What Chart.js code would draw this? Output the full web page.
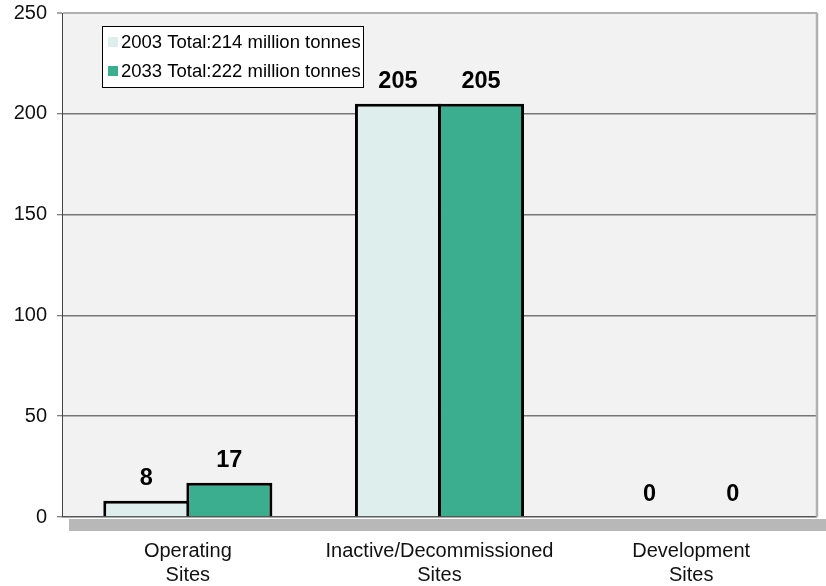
<!DOCTYPE html>
<html><head><meta charset="utf-8">
<script src="https://cdn.jsdelivr.net/npm/chart.js@4/dist/chart.umd.min.js"></script>
<style>html,body{margin:0;padding:0;background:#fff}#wrap{width:826px;height:586px}</style>
</head><body><div id="wrap"><canvas id="c" width="826" height="586"></canvas></div>
<script>
const categories = [["Operating","Sites"],["Inactive/Decommissioned","Sites"],["Development","Sites"]];
const seriesNames = ["2003 Total:214 million tonnes","2033 Total:222 million tonnes"];
const values2003 = [8, 205, 0];
const values2033 = [17, 205, 0];
const yTicks = [0, 50, 100, 150, 200, 250];
const colors = ["#ddeeed", "#3aae8f"];
const FONT = "'Liberation Sans', Arial, sans-serif";

const decor = {
  id: 'decor',
  beforeDraw(chart) {
    const {ctx, chartArea: a} = chart;
    ctx.save();
    ctx.fillStyle = '#f2f2f2';
    ctx.fillRect(a.left, a.top, a.right - a.left, a.bottom - a.top);
    ctx.fillStyle = '#b8b8b8';
    ctx.fillRect(a.left + 7, a.bottom + 2, chart.width - a.left - 7, 12);
    ctx.restore();
  },
  afterDraw(chart) {
    const {ctx, chartArea: a} = chart;
    ctx.save();
    ctx.strokeStyle = '#b0b0b0';
    ctx.lineWidth = 2.5;
    ctx.beginPath();
    ctx.moveTo(a.right, a.top);
    ctx.lineTo(a.right, a.bottom);
    ctx.stroke();
    ctx.fillStyle = '#000';
    ctx.font = "bold 23.5px " + FONT;
    ctx.textAlign = 'center';
    ctx.textBaseline = 'middle';
    chart.data.datasets.forEach((ds, di) => {
      chart.getDatasetMeta(di).data.forEach((bar, i) => {
        ctx.fillText(String(ds.data[i]), bar.x, bar.y - 22);
      });
    });
    const lx = a.left + 40, ly = a.top + 13, lw = 261, lh = 61;
    ctx.fillStyle = '#fff';
    ctx.fillRect(lx, ly, lw, lh);
    ctx.strokeStyle = '#000';
    ctx.lineWidth = 1;
    ctx.strokeRect(lx + 0.5, ly + 0.5, lw, lh);
    ctx.font = "18.5px " + FONT;
    ctx.textAlign = 'left';
    chart.data.datasets.forEach((ds, di) => {
      const cy = ly + 16 + di * 29;
      ctx.fillStyle = ds.backgroundColor;
      ctx.fillRect(lx + 6, cy - 5, 10, 10);
      ctx.fillStyle = '#000';
      ctx.fillText(ds.label, lx + 19, cy + 1);
    });
    ctx.restore();
  }
};

new Chart(document.getElementById('c'), {
  type: 'bar',
  data: {
    labels: categories,
    datasets: [
      {label: seriesNames[0], data: values2003, backgroundColor: colors[0], borderColor: '#000', borderWidth: 3, borderSkipped: 'bottom', categoryPercentage: 0.66, barPercentage: 1.036},
      {label: seriesNames[1], data: values2033, backgroundColor: colors[1], borderColor: '#000', borderWidth: 3, borderSkipped: 'bottom', categoryPercentage: 0.66, barPercentage: 1.036}
    ]
  },
  options: {
    responsive: false,
    animation: false,
    devicePixelRatio: 1,
    layout: {padding: {top: 13, right: 9, left: 0, bottom: 0}},
    plugins: {legend: {display: false}, tooltip: {enabled: false}},
    scales: {
      x: {
        grid: {display: false, drawTicks: false},
        border: {display: false},
        ticks: {color: '#111', font: {family: FONT, size: 20}, padding: 22, maxRotation: 0},
        afterFit(s) { s.height = 69; s.paddingLeft = 0; s.paddingRight = 0; }
      },
      y: {
        min: 0, max: 250,
        afterBuildTicks(s) { s.ticks = yTicks.map(v => ({value: v})); },
        ticks: {color: '#111', font: {family: FONT, size: 20}, padding: 10},
        grid: {
          color: c => c.tick.value === 250 ? '#b0b0b0' : (c.tick.value === 0 ? '#555' : '#777'),
          lineWidth: c => c.tick.value === 250 ? 2 : 1.5,
          tickColor: '#555', tickLength: 5, tickWidth: 1
        },
        border: {display: true, color: '#444', width: 1},
        afterFit(s) { s.width = 62; s.paddingTop = 0; s.paddingBottom = 0; }
      }
    }
  },
  plugins: [decor]
});
</script></body></html>
